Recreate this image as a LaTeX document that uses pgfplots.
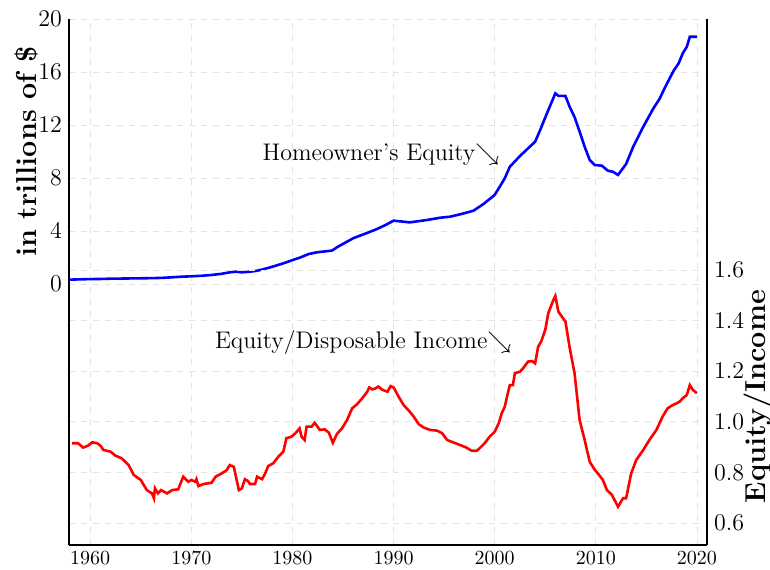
\documentclass[border=0pt]{standalone}
\usepackage{pgfplots}
\pgfplotsset{compat=1.18}

% homeowner's equity, trillions of $
\pgfplotstableread{
year val
1958.0 0.33
1959.0 0.35
1960.0 0.37
1961.0 0.38
1962.0 0.40
1963.0 0.41
1964.0 0.42
1965.0 0.43
1966.0 0.44
1967.0 0.46
1968.0 0.50
1969.0 0.55
1970.0 0.58
1971.0 0.62
1972.0 0.68
1973.0 0.77
1973.8 0.88
1974.4 0.93
1975.0 0.88
1975.8 0.93
1976.5 1.00
1977.1 1.11
1978.0 1.30
1979.1 1.56
1980.0 1.80
1980.8 2.01
1981.6 2.26
1982.4 2.39
1983.9 2.52
1984.4 2.77
1986.0 3.45
1987.2 3.80
1988.3 4.13
1989.2 4.45
1990.0 4.78
1991.0 4.70
1991.6 4.65
1993.3 4.83
1994.6 5.00
1995.6 5.08
1996.8 5.30
1997.9 5.53
1998.9 6.04
2000.0 6.72
2000.5 7.34
2001.0 7.98
2001.5 8.85
2002.5 9.66
2004.0 10.74
2004.5 11.62
2005.1 12.75
2006.0 14.39
2006.3 14.20
2007.0 14.19
2007.4 13.40
2007.9 12.60
2008.4 11.50
2008.9 10.36
2009.4 9.36
2009.9 8.98
2010.6 8.93
2011.2 8.55
2011.7 8.47
2012.2 8.23
2013.0 9.06
2013.7 10.36
2014.7 11.87
2015.7 13.26
2016.3 13.96
2016.8 14.77
2017.7 16.10
2018.2 16.66
2018.6 17.41
2019.0 17.90
2019.3 18.66
2020.0 18.66
}\equity

% equity / disposable income
\pgfplotstableread{
year val
1958.2 0.915
1958.8 0.915
1959.3 0.898
1959.8 0.906
1960.2 0.919
1960.7 0.915
1961.0 0.906
1961.3 0.889
1962.0 0.882
1962.5 0.866
1963.1 0.856
1963.8 0.829
1964.3 0.790
1965.0 0.770
1965.6 0.730
1966.1 0.717
1966.3 0.698
1966.4 0.737
1966.7 0.717
1967.0 0.730
1967.6 0.717
1968.1 0.730
1968.7 0.733
1969.2 0.783
1969.7 0.763
1970.0 0.770
1970.4 0.763
1970.5 0.773
1970.7 0.746
1971.2 0.754
1972.0 0.759
1972.4 0.783
1973.0 0.796
1973.5 0.809
1973.8 0.829
1974.2 0.822
1974.7 0.730
1975.0 0.737
1975.3 0.773
1975.6 0.766
1975.8 0.754
1976.3 0.754
1976.5 0.783
1977.0 0.773
1977.3 0.796
1977.6 0.825
1978.1 0.836
1978.6 0.862
1979.1 0.882
1979.4 0.935
1979.9 0.941
1980.3 0.955
1980.7 0.974
1980.9 0.941
1981.2 0.928
1981.4 0.981
1981.9 0.981
1982.2 0.996
1982.7 0.968
1983.2 0.970
1983.6 0.957
1984.0 0.917
1984.4 0.952
1984.9 0.974
1985.4 1.007
1985.9 1.053
1986.4 1.070
1986.9 1.093
1987.4 1.119
1987.6 1.136
1987.9 1.128
1988.2 1.132
1988.5 1.139
1988.9 1.126
1989.4 1.119
1989.7 1.141
1990.0 1.136
1990.5 1.099
1991.0 1.066
1991.6 1.040
1992.0 1.020
1992.5 0.990
1993.0 0.977
1993.6 0.968
1994.3 0.965
1994.8 0.955
1995.3 0.928
1996.0 0.917
1996.6 0.908
1997.2 0.898
1997.7 0.886
1998.2 0.885
1998.5 0.895
1999.0 0.915
1999.5 0.941
2000.0 0.961
2000.4 0.994
2000.7 1.034
2001.0 1.060
2001.3 1.113
2001.5 1.145
2001.8 1.145
2002.0 1.192
2002.5 1.198
2002.8 1.211
2003.3 1.238
2003.7 1.240
2004.0 1.231
2004.3 1.297
2004.6 1.317
2005.0 1.363
2005.3 1.429
2005.8 1.481
2006.0 1.497
2006.3 1.435
2007.0 1.396
2007.4 1.297
2007.9 1.192
2008.4 1.007
2008.9 0.928
2009.4 0.842
2009.9 0.810
2010.2 0.796
2010.7 0.770
2011.1 0.730
2011.6 0.711
2012.2 0.664
2012.7 0.698
2013.0 0.698
2013.2 0.737
2013.5 0.796
2014.0 0.849
2014.7 0.889
2015.3 0.928
2016.0 0.968
2016.6 1.020
2017.1 1.053
2017.6 1.066
2018.0 1.073
2018.3 1.080
2018.6 1.093
2019.0 1.106
2019.3 1.145
2019.6 1.126
2020.0 1.113
}\ratio

\begin{document}
\begin{tikzpicture}
\pgfplotsset{
  every axis/.append style={
    scale only axis, width=319pt, height=263pt,
    xmin=1957.9, xmax=2021,
    axis line style={line width=1.1pt},
    major tick length=0pt,
    grid style={dashed, gray!22},
  },
}
\begin{axis}[
  axis x line*=bottom, axis y line*=box,
  ymin=-19.7, ymax=20,
  ytick={0,4,...,20},
  yticklabel pos=left,
  xtick={1960,1970,...,2020},
  xticklabel style={/pgf/number format/1000 sep={}},
  yticklabel style={font=\large},
  xmajorgrids, ymajorgrids,
  ylabel={\Large\bfseries in trillions of \$},
  ylabel style={at={(ticklabel cs:0.748)}, inner sep=1pt},
  ylabel shift=-4.2pt,
]
\addplot[blue, line width=1.3pt] table[x=year, y=val] {\equity};
\node[anchor=east, font=\large, inner sep=1pt] at (axis cs:2000.7,9.8) {Homeowner's Equity$\searrow$};
\node[anchor=east, font=\large, inner sep=1pt] at (axis cs:2001.9,-4.4) {Equity/Disposable Income$\searrow$};
\end{axis}
\begin{axis}[
  hide x axis, axis y line*=box,
  xtick=\empty,
  ymin=0.513, ymax=2.592,
  ytick={0.6,0.8,...,1.61},
  yticklabel pos=right,
  yticklabel style={font=\large, /pgf/number format/fixed, /pgf/number format/fixed zerofill, /pgf/number format/precision=1},
  ymajorgrids,
  ylabel={\Large\bfseries Equity/Income},
  ylabel style={at={(ticklabel cs:0.282)}, inner sep=1pt},
  ylabel shift=-4.8pt,
]
\addplot[red, line width=1.3pt] table[x=year, y=val] {\ratio};
\end{axis}
\pgfresetboundingbox
\path[use as bounding box] ([shift={(-34.5pt,-12pt)}]current axis.south west)
  rectangle ([shift={(31.5pt,9.5pt)}]current axis.north east);
\end{tikzpicture}
\end{document}
